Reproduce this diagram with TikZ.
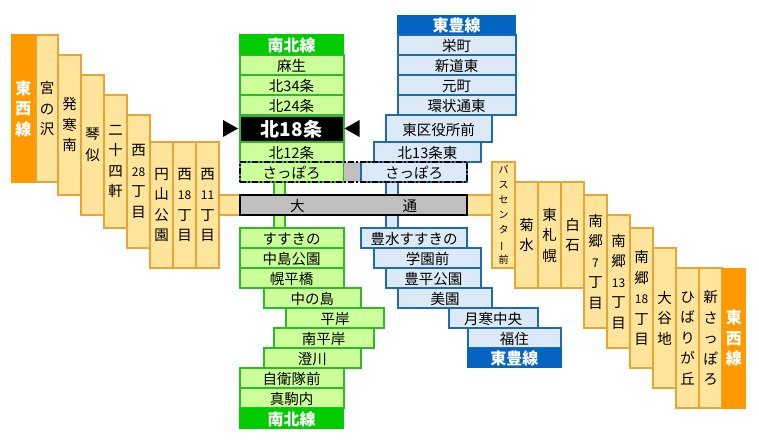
\documentclass[tikz,border=0pt]{standalone}
\usepackage{fontspec}
\setmainfont{Noto Sans CJK JP}
\usetikzlibrary{shapes.geometric}
\definecolor{ewfill}{HTML}{FFE49C}
\definecolor{ewline}{HTML}{E8A535}
\definecolor{ewhead}{HTML}{FF9900}
\definecolor{nsfill}{HTML}{CCFF99}
\definecolor{nsline}{HTML}{2DB82D}
\definecolor{nshead}{HTML}{00CC00}
\definecolor{tofill}{HTML}{DCE9F6}
\definecolor{toline}{HTML}{1F6BAE}
\definecolor{tohead}{HTML}{0563C1}
\definecolor{oduri}{HTML}{BFBFBF}
\newcommand{\suji}[1]{{\fontsize{12}{12}\selectfont #1}}
\tikzset{
	sta/.style={rectangle, inner sep=0pt, outer sep=0pt, line width=2pt, align=center, font=\fontsize{14.5}{20.5}\selectfont},
	hz/.style={text height=13.5pt, text depth=0.5pt},
	head/.style={sta, text=white, font=\fontsize{16}{20.5}\selectfont\bfseries},
	ewsta/.style={sta, draw=ewline, fill=ewfill},
	nssta/.style={sta, hz, draw=nsline, fill=nsfill},
	tosta/.style={sta, hz, draw=toline, fill=tofill},
	link/.style={line width=2pt, double distance=#1, shorten >=1pt, shorten <=1pt},
	pointer/.style={isosceles triangle, isosceles triangle stretches, fill=black, inner sep=0pt, outer sep=0pt, minimum width=17pt, minimum height=15pt}
}
\begin{document}
\begin{tikzpicture}[x=1pt,y=-1pt]
	\useasboundingbox (0,0) rectangle (759,445);
	% tozai line, west side
	\node[head, fill=ewhead, minimum width=25, minimum height=149] (ewhead_w) at (23.5,108.5) {東\\西\\線};
	\node[ewsta, minimum width=22, minimum height=147] (miyanosawa) at (47,108.5) {宮\\の\\沢};
	\node[ewsta, minimum width=23, minimum height=140] (hassamu) at (69.5,125) {発\\寒\\南};
	\node[ewsta, minimum width=23, minimum height=140] (kotoni) at (92.5,145) {琴\\似};
	\node[ewsta, minimum width=23, minimum height=133] (nijuyon) at (115.5,161.5) {二\\十\\四\\軒};
	\node[ewsta, minimum width=23, minimum height=133] (nishi28) at (138.5,181.5) {西\\\suji{28}\\丁\\目};
	\node[ewsta, minimum width=23, minimum height=126] (maruyama) at (161.5,205) {円\\山\\公\\園};
	\node[ewsta, minimum width=23, minimum height=126] (nishi18) at (184.5,205) {西\\\suji{18}\\丁\\目};
	\node[ewsta, minimum width=23, minimum height=126] (nishi11) at (207.5,205) {西\\\suji{11}\\丁\\目};
	% nanboku line
	\node[head, hz, fill=nshead, minimum width=105, minimum height=21] (nshead_n) at (291.5,44.5) {南北線};
	\node[nssta, minimum width=104, minimum height=20] (asabu) at (291.5,65) {麻生};
	\node[nssta, minimum width=104, minimum height=20] (kita34) at (291.5,85) {北34条};
	\node[nssta, minimum width=104, minimum height=20] (kita24) at (291.5,105) {北24条};
	\node[nssta, fill=black, text=white, font=\fontsize{19}{20}\selectfont\bfseries, text height=16.5pt, minimum width=104, minimum height=26] (kita18) at (291.5,128.5) {北18条};
	\node[nssta, minimum width=104, minimum height=20] (kita12) at (291.5,152) {北12条};
	\node[nssta, minimum width=104, minimum height=20] (sapporo_ns) at (291.5,172) {さっぽろ};
	\node[nssta, minimum width=104, minimum height=20] (susukino) at (291.5,238) {すすきの};
	\node[nssta, minimum width=104, minimum height=20] (nakajima) at (291.5,258) {中島公園};
	\node[nssta, minimum width=104, minimum height=20] (horohira) at (291.5,278) {幌平橋};
	\node[nssta, minimum width=97.5, minimum height=20] (nakanoshima) at (312.25,298) {中の島};
	\node[nssta, minimum width=98, minimum height=20] (hiragishi) at (335,318) {平岸};
	\node[nssta, minimum width=100, minimum height=20] (minamihira) at (323.5,338) {南平岸};
	\node[nssta, minimum width=97.5, minimum height=20] (sumikawa) at (312.25,358) {澄川};
	\node[nssta, minimum width=104, minimum height=20] (jieitai) at (291.5,378) {自衛隊前};
	\node[nssta, minimum width=104, minimum height=20] (makomanai) at (291.5,398) {真駒内};
	\node[head, hz, fill=nshead, minimum width=105, minimum height=21] (nshead_s) at (291.5,418.5) {南北線};
	% toho line
	\node[head, hz, fill=tohead, minimum width=119, minimum height=20] (tohead_n) at (456.5,25) {東豊線};
	\node[tosta, minimum width=118, minimum height=20] (sakaemachi) at (456.5,45) {栄町};
	\node[tosta, minimum width=118, minimum height=20] (shindo) at (456.5,65) {新道東};
	\node[tosta, minimum width=118, minimum height=20] (motomachi) at (456.5,85) {元町};
	\node[tosta, minimum width=118, minimum height=20] (kanjo) at (456.5,105) {環状通東};
	\node[tosta, minimum width=106, minimum height=27] (higashiku) at (438.5,128.5) {東区役所前};
	\node[tosta, minimum width=107, minimum height=20] (kita13) at (427.5,152) {北13条東};
	\node[fill=oduri, inner sep=0pt, outer sep=0pt, minimum width=17.5, minimum height=20] (sapporo_gap) at (352.25,172) {};
	\node[tosta, minimum width=106, minimum height=20] (sapporo_to) at (414,172) {さっぽろ};
	\node[tosta, minimum width=106, minimum height=20] (hosui) at (414,238) {豊水すすきの};
	\node[tosta, minimum width=107, minimum height=20] (gakuen) at (427.5,258) {学園前};
	\node[tosta, minimum width=95.5, minimum height=20] (toyohira) at (433.25,278) {豊平公園};
	\node[tosta, minimum width=94, minimum height=20] (misono) at (445,298) {美園};
	\node[tosta, minimum width=89, minimum height=20] (tsukisamu) at (493,318) {月寒中央};
	\node[tosta, minimum width=93.5, minimum height=20] (fukuzumi) at (514.25,338) {福住};
	\node[head, hz, fill=tohead, minimum width=95.5, minimum height=20] (tohead_s) at (514.25,358) {東豊線};
	% tozai line, east side
	\node[ewsta, font=\fontsize{10}{15}\selectfont, minimum width=23, minimum height=106] (buscenter) at (503.5,215) {バ\\ス\\セ\\ン\\タ\\\rotatebox[origin=c]{90}{ー}\\前};
	\node[ewsta, minimum width=23, minimum height=106] (kikusui) at (526.5,235) {菊\\水};
	\node[ewsta, minimum width=23, minimum height=106] (higashisap) at (549.5,235) {東\\札\\幌};
	\node[ewsta, minimum width=23, minimum height=106] (shiroishi) at (572.5,235) {白\\石};
	\node[ewsta, minimum width=23, minimum height=133] (nango7) at (595.5,261.5) {南\\郷\\\suji{7}\\丁\\目};
	\node[ewsta, minimum width=23, minimum height=133] (nango13) at (618.5,281.5) {南\\郷\\\suji{13}\\丁\\目};
	\node[ewsta, minimum width=23, minimum height=140] (nango18) at (641.5,298) {南\\郷\\\suji{18}\\丁\\目};
	\node[ewsta, minimum width=23, minimum height=140] (oyachi) at (664.5,318) {大\\谷\\地};
	\node[ewsta, minimum width=23, minimum height=140] (hibarigaoka) at (687.5,338) {ひ\\ば\\り\\が\\丘};
	\node[ewsta, minimum width=23, minimum height=140] (shinsapporo) at (710.5,338) {新\\さ\\っ\\ぽ\\ろ};
	\node[head, fill=ewhead, minimum width=24.5, minimum height=141] (ewhead_e) at (733.75,338) {東\\西\\線};
	% connectors
	\draw[link=9pt, draw=nsline, double=nsfill] ([xshift=-12.5]sapporo_ns.south) -- ([xshift=-12.5]susukino.north);
	\draw[link=10pt, draw=toline, double=tofill] ([xshift=-22.5]sapporo_to.south) -- ([xshift=-22.5]hosui.north);
	\node[sta, hz, draw=black, fill=oduri, minimum width=227, minimum height=20] (odori) at (353.5,205) {大\hspace{98pt}通};
	\draw[link=18pt, draw=ewline, double=ewfill] (nishi11.east) -- (odori.west);
	\draw[link=18pt, draw=ewline, double=ewfill] (odori.east) -- (odori.east -| buscenter.west);
	% sapporo frame and markers
	\node[draw=black, line width=2pt, dash pattern=on 6pt off 2pt on 2pt off 2pt, inner sep=0pt, outer sep=0pt, minimum width=227, minimum height=20] (sapporo_frame) at (353.5,172) {};
	\node[pointer, anchor=apex] (mark_l) at ([xshift=-1.5]kita18.west) {};
	\node[pointer, shape border rotate=180, anchor=apex] (mark_r) at ([xshift=1]kita18.east) {};
\end{tikzpicture}
\end{document}
